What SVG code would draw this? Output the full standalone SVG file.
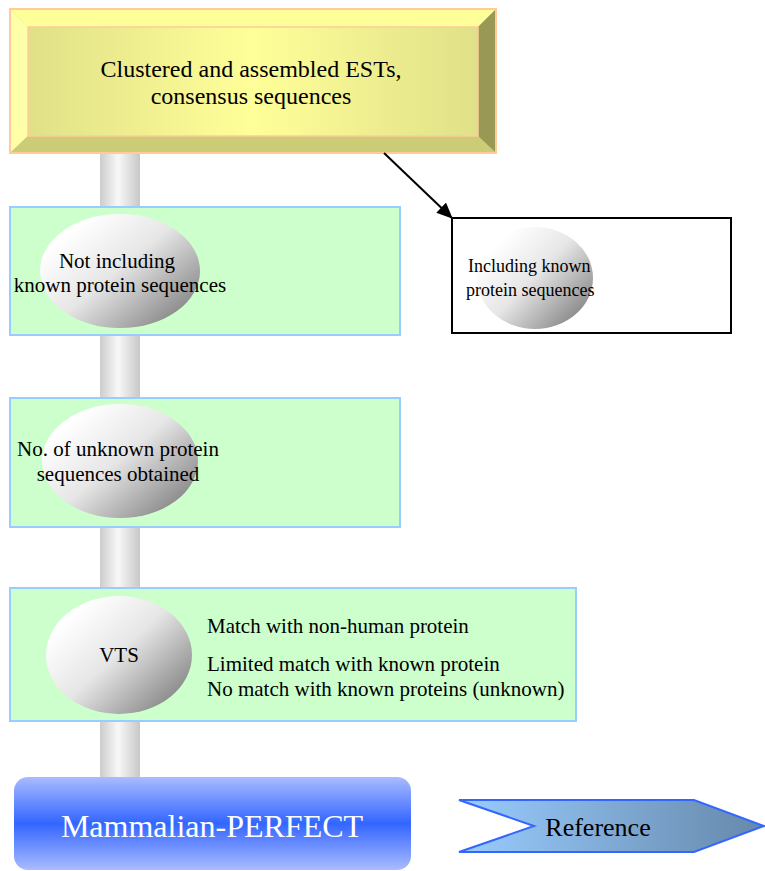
<svg xmlns="http://www.w3.org/2000/svg" width="765" height="871" viewBox="0 0 765 871">
<defs>
<linearGradient id="pillar" x1="0" y1="0" x2="1" y2="0">
<stop offset="0" stop-color="#cccccc"/><stop offset="0.45" stop-color="#f8f8f8"/><stop offset="1" stop-color="#c8c8c8"/>
</linearGradient>
<linearGradient id="face" x1="0" y1="0" x2="1" y2="0">
<stop offset="0" stop-color="#e0e088"/><stop offset="0.5" stop-color="#ffff99"/><stop offset="1" stop-color="#e0e088"/>
</linearGradient>
<linearGradient id="ball" x1="0.15" y1="0.2" x2="0.9" y2="0.85">
<stop offset="0" stop-color="#ffffff"/><stop offset="0.45" stop-color="#e6e6e6"/><stop offset="1" stop-color="#8a8a8a"/>
</linearGradient>
<linearGradient id="blue" x1="0" y1="0" x2="0" y2="1">
<stop offset="0" stop-color="#aabbff"/><stop offset="0.5" stop-color="#3366ff"/><stop offset="1" stop-color="#aabbff"/>
</linearGradient>
<linearGradient id="chev" x1="0" y1="0" x2="1" y2="0">
<stop offset="0" stop-color="#99ccff"/><stop offset="1" stop-color="#6688aa"/>
</linearGradient>
<marker id="arr" markerWidth="16" markerHeight="14" refX="15" refY="7" orient="auto" markerUnits="userSpaceOnUse" viewBox="0 0 16 14">
<path d="M0,0 L16,7 L0,14 z" fill="#000"/>
</marker>
<style>
.t{font-family:"Liberation Serif",serif;fill:#000}
.g{fill:#ccffcc;stroke:#99ccff;stroke-width:2}
</style>
</defs>
<rect x="100" y="150" width="40" height="628" fill="url(#pillar)"/>
<g id="n-top">
<rect x="10" y="9" width="486" height="144" fill="#cccc77" stroke="#ffcc99" stroke-width="2"/>
<polygon points="10,9 496,9 478,27 28,27" fill="#ffff99"/>
<polygon points="10,9 28,27 28,136 10,153" fill="#ffffaa"/>
<polygon points="496,9 478,27 478,136 496,153" fill="#999955"/>
<polygon points="10,153 28,136 478,136 496,153" fill="#cccc77"/>
<rect x="28" y="27" width="450" height="109" fill="url(#face)" stroke="#ffcc99" stroke-width="1.5"/>
<rect x="10" y="9" width="486" height="144" fill="none" stroke="#ffcc99" stroke-width="2"/>
<text class="t" font-size="24" text-anchor="middle" x="251" y="77">Clustered and assembled ESTs,</text>
<text class="t" font-size="24" text-anchor="middle" x="251" y="104">consensus sequences</text>
</g>
<g id="n-notincl">
<rect class="g" x="10" y="207" width="390" height="128"/>
<ellipse cx="120" cy="271" rx="80" ry="57" fill="url(#ball)"/>
<text class="t" font-size="21" text-anchor="middle" x="117" y="268">Not including</text>
<text class="t" font-size="21" text-anchor="middle" x="120" y="292">known protein sequences</text>
</g>
<g id="n-incl">
<rect x="452" y="218" width="279" height="115" fill="#fff" stroke="#000" stroke-width="2"/>
<ellipse cx="535" cy="278" rx="58" ry="51" fill="url(#ball)"/>
<text class="t" font-size="18" x="468" y="272">Including known</text>
<text class="t" font-size="18" x="466" y="296">protein sequences</text>
</g>
<g id="n-unknown">
<rect class="g" x="10" y="398" width="390" height="129"/>
<ellipse cx="120" cy="461" rx="78" ry="57" fill="url(#ball)"/>
<text class="t" font-size="21" text-anchor="middle" x="118" y="456">No. of unknown protein</text>
<text class="t" font-size="21" text-anchor="middle" x="118" y="481">sequences obtained</text>
</g>
<g id="n-vts">
<rect class="g" x="10" y="588" width="566" height="133"/>
<ellipse cx="119" cy="655" rx="73" ry="59" fill="url(#ball)"/>
<text class="t" font-size="21" text-anchor="middle" x="119" y="662">VTS</text>
<text class="t" font-size="21" x="207" y="633">Match with non-human protein</text>
<text class="t" font-size="21" x="207" y="671">Limited match with known protein</text>
<text class="t" font-size="21" x="207" y="696">No match with known proteins (unknown)</text>
</g>
<g id="n-mp">
<rect x="14" y="777" width="397" height="93" rx="14" fill="url(#blue)"/>
<text font-family="Liberation Serif, serif" font-size="32" fill="#fff" text-anchor="middle" x="212" y="837">Mammalian-PERFECT</text>
</g>
<g id="n-ref">
<polygon points="459,800 694,800 764,826 694,852 459,852 534,826" fill="url(#chev)" stroke="#3366ff" stroke-width="2"/>
<text class="t" font-size="26" text-anchor="middle" x="598" y="836">Reference</text>
</g>
<g id="connectors">
<line x1="384" y1="153" x2="452" y2="218" stroke="#000" stroke-width="2" marker-end="url(#arr)"/>
</g>
</svg>
